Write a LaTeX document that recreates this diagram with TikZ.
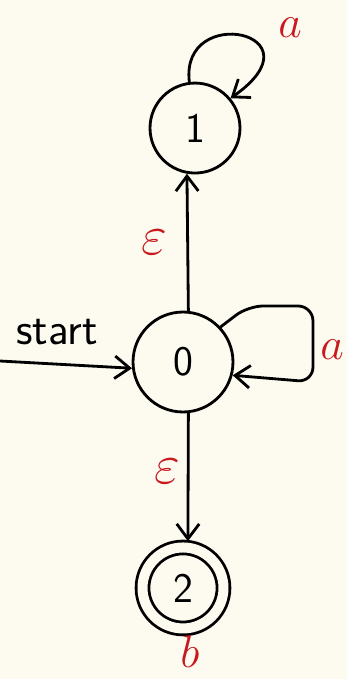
\RequirePackage{fix-cm}
\documentclass[tikz,border=0pt]{standalone}
\usepackage{tikz}
\usetikzlibrary{arrows.meta, positioning}
\definecolor{paper}{RGB}{253,251,240}
\definecolor{ink}{RGB}{200,25,30}
\tikzstyle{state} = [circle, draw=black, line width=1.6pt, minimum size=2cm, inner sep=0pt, font=\fontsize{24}{28}\selectfont\sffamily]
\tikzstyle{acceptstate} = [double=paper, double distance=0.2cm, outer sep=0.13cm]
\tikzstyle{arrow} = [line width=1.6pt, ->, >={Straight Barb[length=0.3cm, width=0.45cm]}]
\tikzstyle{lbl} = [text=ink, inner sep=0pt, font=\fontsize{26}{30}\selectfont]
\tikzstyle{eps} = [text=ink, inner sep=0pt, font=\fontsize{32}{36}\selectfont]

\begin{document}
\begin{tikzpicture}[x=0.02cm, y=-0.02cm]
			\fill[paper] (0,0) rectangle (347,679);
			\useasboundingbox (0,0) rectangle (347,679);
			\node (zero) [state] at (183,362) {0};
			\node (one) [state, minimum size=1.8cm, above of=zero, node distance=4.68cm, xshift=0.24cm] {1};
			\node (two) [state, acceptstate, minimum size=1.62cm, below of=zero, node distance=4.52cm] {2};
			\coordinate (s) at (0,361);
			\node (startlbl) [font=\fontsize{26}{30}\selectfont\sffamily] at (57,332) {start};
			\node (aone) [lbl] at (290,28) {$a$};
			\node (azero) [lbl] at (332,350) {$a$};
			\node (btwo) [lbl] at (190,652) {$b$};
			\draw [arrow] (s) -- (zero.187);
			\draw [arrow] (zero.84) -- (one.260) node (epsone) [eps, midway, xshift=-0.66cm] {$\varepsilon$};
			\draw [arrow] (zero.-84) -- (two.84) node (epstwo) [eps, midway, xshift=-0.42cm, yshift=0.12cm] {$\varepsilon$};
			\draw [arrow] (one.97) .. controls +(97:1.6cm) and +(35:2.3cm) .. (one.40);
			\draw [arrow, rounded corners=0.3cm] (zero.43) -- (248,306) -- (313,306) -- (313,382) -- (zero.-15);
		\end{tikzpicture}
\end{document}
